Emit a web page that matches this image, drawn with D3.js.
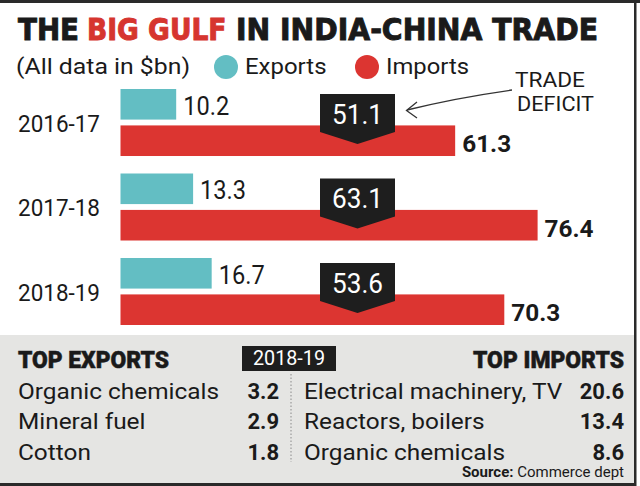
<!DOCTYPE html>
<html><head><meta charset="utf-8">
<script src="https://cdn.jsdelivr.net/npm/d3@7"></script>
<style>
html,body{margin:0;padding:0;background:#fff;}
text{font-family:Roboto,"Open Sans",sans-serif;fill:#1a1a1a;}
</style></head>
<body><svg id="c" width="640" height="486"></svg>
<script>
const years = ["2016-17", "2017-18", "2018-19"];
const exportsVals = [10.2, 13.3, 16.7];
const importsVals = [61.3, 76.4, 70.3];
const deficitVals = [51.1, 63.1, 53.6];
const seriesNames = ["Exports", "Imports"];
const topExportNames = ["Organic chemicals", "Mineral fuel", "Cotton"];
const topExportVals = [3.2, 2.9, 1.8];
const topImportNames = ["Electrical machinery, TV", "Reactors, boilers", "Organic chemicals"];
const topImportVals = [20.6, 13.4, 8.6];

const TEAL = "#63bec3", RED = "#dc3531", DARK = "#1e1e1e";
const svg = d3.select("#c");
function fit(sel, w) { return sel.attr("textLength", w).attr("lengthAdjust", "spacingAndGlyphs"); }

// background panels & frame
svg.append("rect").attr("x", 0).attr("y", 0).attr("width", 640).attr("height", 486).attr("fill", "#fff");
svg.append("rect").attr("x", 0).attr("y", 335).attr("width", 635).attr("height", 149).attr("fill", "#e5e5e3");
svg.append("rect").attr("x", 0).attr("y", 0).attr("width", 640).attr("height", 3).attr("fill", "#2a2a2a");
svg.append("rect").attr("x", 634).attr("y", 0).attr("width", 2.5).attr("height", 486).attr("fill", "#2a2a2a");
svg.append("rect").attr("x", 0).attr("y", 483).attr("width", 636).attr("height", 3).attr("fill", "#2a2a2a");

// title
const tf = "'DejaVu Sans',sans-serif";
function titlePart(x0, w, txt, col) {
  fit(svg.append("text").attr("x", x0).attr("y", 39.5).style("font-family", tf).style("font-weight", "bold")
    .style("font-size", "31px").style("fill", col).style("stroke", col).style("stroke-width", 1).text(txt), w);
}
titlePart(18, 61, "THE", "#1a1a1a");
titlePart(87, 139.5, "BIG GULF", "#d6352f");
titlePart(236, 362, "IN INDIA-CHINA TRADE", "#1a1a1a");

// legend
fit(svg.append("text").attr("x", 16).attr("y", 74).style("font-size", "22px").text("(All data in $bn)"), 174);
const legX = [226, 367], legTX = [245, 386], legW = [81.5, 83];
seriesNames.forEach((s, i) => {
  svg.append("circle").attr("cx", legX[i]).attr("cy", 67).attr("r", 12).attr("fill", i ? RED : TEAL);
  fit(svg.append("text").attr("x", legTX[i]).attr("y", 74).style("font-size", "22px").text(s), legW[i]);
});

// scales
const x = d3.scaleLinear().domain([0, 76.4]).range([120.5, 537.6]);
const y = d3.scaleBand().domain(years).range([89, 325]).paddingInner(0.207).paddingOuter(0);
const sub = d3.scaleBand().domain(seriesNames).range([0, y.bandwidth()]).paddingInner(0.16);

const rows = years.map((yr, i) => ({ yr, ex: exportsVals[i], im: importsVals[i], def: deficitVals[i] }));
const g = svg.append("g");

// year labels
fit(g.selectAll(".yl").data(rows).join("text").attr("class", "yl")
  .attr("x", 18).attr("y", d => y(d.yr) + 43).style("font-size", "24px").text(d => d.yr), 82);

// bars
g.selectAll(".ex").data(rows).join("rect").attr("class", "ex")
  .attr("x", x(0)).attr("y", d => y(d.yr) + sub("Exports"))
  .attr("width", d => x(d.ex) - x(0)).attr("height", sub.bandwidth()).attr("fill", TEAL);
g.selectAll(".im").data(rows).join("rect").attr("class", "im")
  .attr("x", x(0)).attr("y", d => y(d.yr) + sub("Imports"))
  .attr("width", d => x(d.im) - x(0)).attr("height", sub.bandwidth()).attr("fill", RED);

// value labels
fit(g.selectAll(".exl").data(rows).join("text").attr("class", "exl")
  .attr("x", d => x(d.ex) + 7).attr("y", d => y(d.yr) + sub("Exports") + 26)
  .style("font-size", "25px").text(d => d.ex.toFixed(1)), 46);
fit(g.selectAll(".iml").data(rows).join("text").attr("class", "iml")
  .attr("x", d => x(d.im) + 7).attr("y", d => y(d.yr) + sub("Imports") + 27)
  .style("font-size", "24px").style("font-weight", "bold").text(d => d.im.toFixed(1)), 49);

// deficit badges
const bx0 = 320, bx1 = 395, bcx = (bx0 + bx1) / 2;
g.selectAll(".badge").data(rows).join("path").attr("class", "badge")
  .attr("d", d => { const t = y(d.yr) + 5; return `M${bx0},${t}H${bx1}V${t + 38}L${bcx},${t + 50}L${bx0},${t + 38}Z`; })
  .attr("fill", DARK);
fit(g.selectAll(".bl").data(rows).join("text").attr("class", "bl")
  .attr("x", bcx).attr("y", d => y(d.yr) + 5 + 30).attr("text-anchor", "middle")
  .style("font-size", "28px").style("fill", "#fff").text(d => d.def.toFixed(1)), 51);

// trade deficit annotation
fit(svg.append("text").attr("x", 515).attr("y", 87).style("font-size", "20px").text("TRADE"), 70);
fit(svg.append("text").attr("x", 517).attr("y", 111).style("font-size", "20px").text("DEFICIT"), 77);
svg.append("path").attr("d", "M512,90 Q455,98 407,110").attr("fill", "none").attr("stroke", "#333").attr("stroke-width", 1.3);
svg.append("path").attr("d", "M417,102 L406.5,110.5 L417,118").attr("fill", "none").attr("stroke", "#333").attr("stroke-width", 1.3);

// bottom panel
function head(x0, anchor, txt) {
  fit(svg.append("text").attr("x", x0).attr("y", 368).attr("text-anchor", anchor).style("font-size", "23px")
    .style("font-weight", "900").style("stroke", "#1a1a1a").style("stroke-width", 0.5).text(txt), 151);
}
head(18, "start", "TOP EXPORTS");
head(624, "end", "TOP IMPORTS");
svg.append("rect").attr("x", 242).attr("y", 346).attr("width", 94).attr("height", 25).attr("fill", DARK);
fit(svg.append("text").attr("x", 289).attr("y", 365).attr("text-anchor", "middle").style("font-size", "20px").style("fill", "#fff").text(years[2]), 72);

svg.append("line").attr("x1", 291).attr("x2", 291).attr("y1", 374).attr("y2", 462)
  .attr("stroke", "#8a8a8a").attr("stroke-width", 1).attr("stroke-dasharray", "1.5,2");

const rowY = d3.scalePoint().domain([0, 1, 2]).range([398.5, 460]);
const bottom = svg.append("g");
const n1 = bottom.selectAll(".en").data(topExportNames).join("text").attr("class", "en")
  .attr("x", 18).attr("y", (d, i) => rowY(i)).style("font-size", "22px").text(d => d);
const n2 = bottom.selectAll(".in").data(topImportNames).join("text").attr("class", "in")
  .attr("x", 304).attr("y", (d, i) => rowY(i)).style("font-size", "22px").text(d => d);
const factor = 201 / n1.node().getComputedTextLength();
[n1, n2].forEach(s => s.each(function () {
  const w = this.getComputedTextLength();
  d3.select(this).attr("textLength", w * factor).attr("lengthAdjust", "spacingAndGlyphs");
}));
bottom.selectAll(".ev").data(topExportVals).join("text").attr("class", "ev")
  .attr("x", 279).attr("y", (d, i) => rowY(i)).attr("text-anchor", "end")
  .style("font-size", "22px").style("font-weight", "bold").text(d => d.toFixed(1));
bottom.selectAll(".iv").data(topImportVals).join("text").attr("class", "iv")
  .attr("x", 624).attr("y", (d, i) => rowY(i)).attr("text-anchor", "end")
  .style("font-size", "22px").style("font-weight", "bold").text(d => d.toFixed(1));

const src = svg.append("text").attr("x", 624).attr("y", 477).attr("text-anchor", "end").style("font-size", "15px");
src.append("tspan").style("font-weight", "bold").text("Source:");
src.append("tspan").text(" Commerce dept");
</script></body></html>
